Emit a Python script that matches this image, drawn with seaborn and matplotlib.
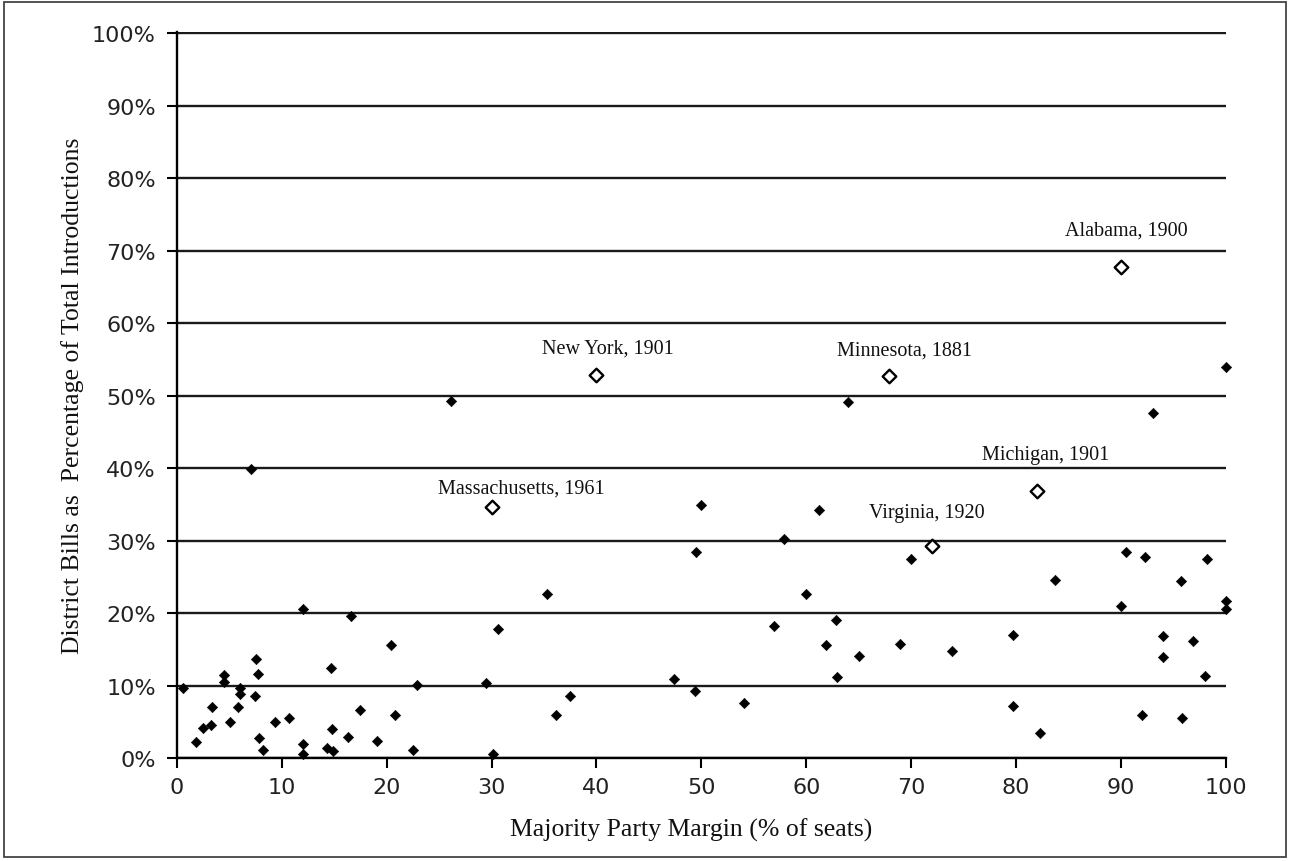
import numpy as np
import pandas as pd
import seaborn as sns
import matplotlib.pyplot as plt
from matplotlib.ticker import FuncFormatter
from matplotlib.patches import Rectangle

# Majority party margin (% of seats) vs district bills (% of introductions)
margin = [0.6, 1.8, 2.5, 3.3, 3.4, 4.5, 4.5, 5.1, 6.0, 6.0, 5.8, 7.1, 7.6, 7.7, 7.5,
          7.8, 8.2, 9.4, 10.7, 12.0, 12.0, 12.0, 14.3, 14.9, 14.8, 14.7, 16.6, 16.3,
          17.5, 19.1, 20.4, 20.8, 22.5, 22.9,
          26.1, 29.5, 30.1, 30.6, 35.3, 36.1, 37.5, 47.4, 49.4, 49.5, 50.0, 54.1,
          56.9, 57.9, 60.0, 61.2, 61.9, 62.8, 62.9, 64.0, 65.0, 68.9, 70.0, 73.9,
          79.7, 79.7, 82.3, 83.7,
          90.0, 90.5, 92.3, 92.0, 93.0, 94.0, 94.0, 95.7, 95.8, 96.9, 98.2, 98.0,
          100.0, 100.0, 100.0]
district_pct = [9.7, 2.15, 4.1, 4.6, 7.1, 11.5, 10.5, 4.9, 9.7, 8.9, 7.1, 39.9, 13.7, 11.6, 8.5,
                2.8, 1.1, 5.0, 5.5, 20.6, 1.9, 0.55, 1.4, 1.0, 4.0, 12.4, 19.6, 2.9,
                6.6, 2.3, 15.6, 5.9, 1.1, 10.1,
                49.3, 10.4, 0.6, 17.8, 22.7, 5.9, 8.5, 10.9, 9.3, 28.4, 34.9, 7.6,
                18.2, 30.2, 22.7, 34.2, 15.6, 19.0, 11.2, 49.1, 14.1, 15.8, 27.5, 14.7,
                17.0, 7.2, 3.5, 24.5,
                21.0, 28.4, 27.8, 5.9, 47.55, 16.9, 14.0, 24.4, 5.5, 16.1, 27.5, 11.3,
                54.0, 21.6, 20.5]

# highlighted cases
case_names = ["Alabama, 1900", "New York, 1901", "Massachusetts, 1961",
              "Minnesota, 1881", "Virginia, 1920", "Michigan, 1901"]
case_margin = [90.0, 40.0, 30.0, 67.9, 72.0, 82.0]
case_pct = [67.7, 52.9, 34.7, 52.7, 29.2, 36.8]

# label offsets from each point (data units)
label_dx = [0.5, 1.1, 2.8, 1.5, -0.5, 0.8]
label_dy = [4.5, 3.0, 2.0, 3.05, 4.1, 4.4]

df = pd.DataFrame({"margin": margin, "pct": district_pct})
cases = pd.DataFrame({"name": case_names, "margin": case_margin, "pct": case_pct})

sns.set_style("ticks")
plt.rcParams['font.family'] = ['DejaVu Sans']
serif = ['Liberation Serif', 'DejaVu Serif']

fig = plt.figure(figsize=(12.9, 8.62), dpi=100)
ax = fig.add_axes([0.137, 0.1195, 0.8134, 0.8422])

sns.scatterplot(data=df, x="margin", y="pct", marker="D", s=28, color="black",
                edgecolor="black", linewidth=0.4, ax=ax, clip_on=False, zorder=4)
sns.scatterplot(data=cases, x="margin", y="pct", marker="D", s=48, facecolor="white",
                edgecolor="black", linewidth=1.7, ax=ax, clip_on=False, zorder=4)

for i, row in cases.iterrows():
    ax.text(row["margin"] + label_dx[i], row["pct"] + label_dy[i], row["name"],
            ha="center", va="baseline", fontsize=14.5, family=serif, color="#111111")

ax.set_xlim(0, 100)
ax.set_ylim(0, 100.2)
ax.set_xticks(range(0, 101, 10))
ax.set_yticks(range(0, 101, 10))
ax.yaxis.set_major_formatter(FuncFormatter(lambda v, p: f"{v:.0f}%"))
ax.grid(axis="y", color="#1a1a1a", linewidth=1.7)
ax.set_axisbelow(True)

for s in ["top", "right"]:
    ax.spines[s].set_visible(False)
for s in ["left", "bottom"]:
    ax.spines[s].set_color("black")
    ax.spines[s].set_linewidth(1.7)

ax.tick_params(axis="both", direction="out", length=7, width=1.5, color="black",
               labelsize=16, labelcolor="#222222")
ax.tick_params(axis="x", pad=7)
ax.tick_params(axis="y", pad=8)

ax.set_xlabel("Majority Party Margin (% of seats)", fontsize=18.5, family=serif, color="#111111")
ax.set_ylabel("District Bills as  Percentage of Total Introductions", fontsize=18.5,
              family=serif, color="#111111")
ax.xaxis.set_label_coords(0.49, -0.098)
ax.xaxis.label.set_va("center")
ax.yaxis.set_label_coords(-0.099, 0.5)
ax.yaxis.label.set_va("center")

fig.patches.append(Rectangle((4 / 1290, 4 / 862), 1282 / 1290, 855 / 862,
                             transform=fig.transFigure, fill=False,
                             edgecolor="#444444", linewidth=1.3))

fig.savefig("out.png", dpi=100)
